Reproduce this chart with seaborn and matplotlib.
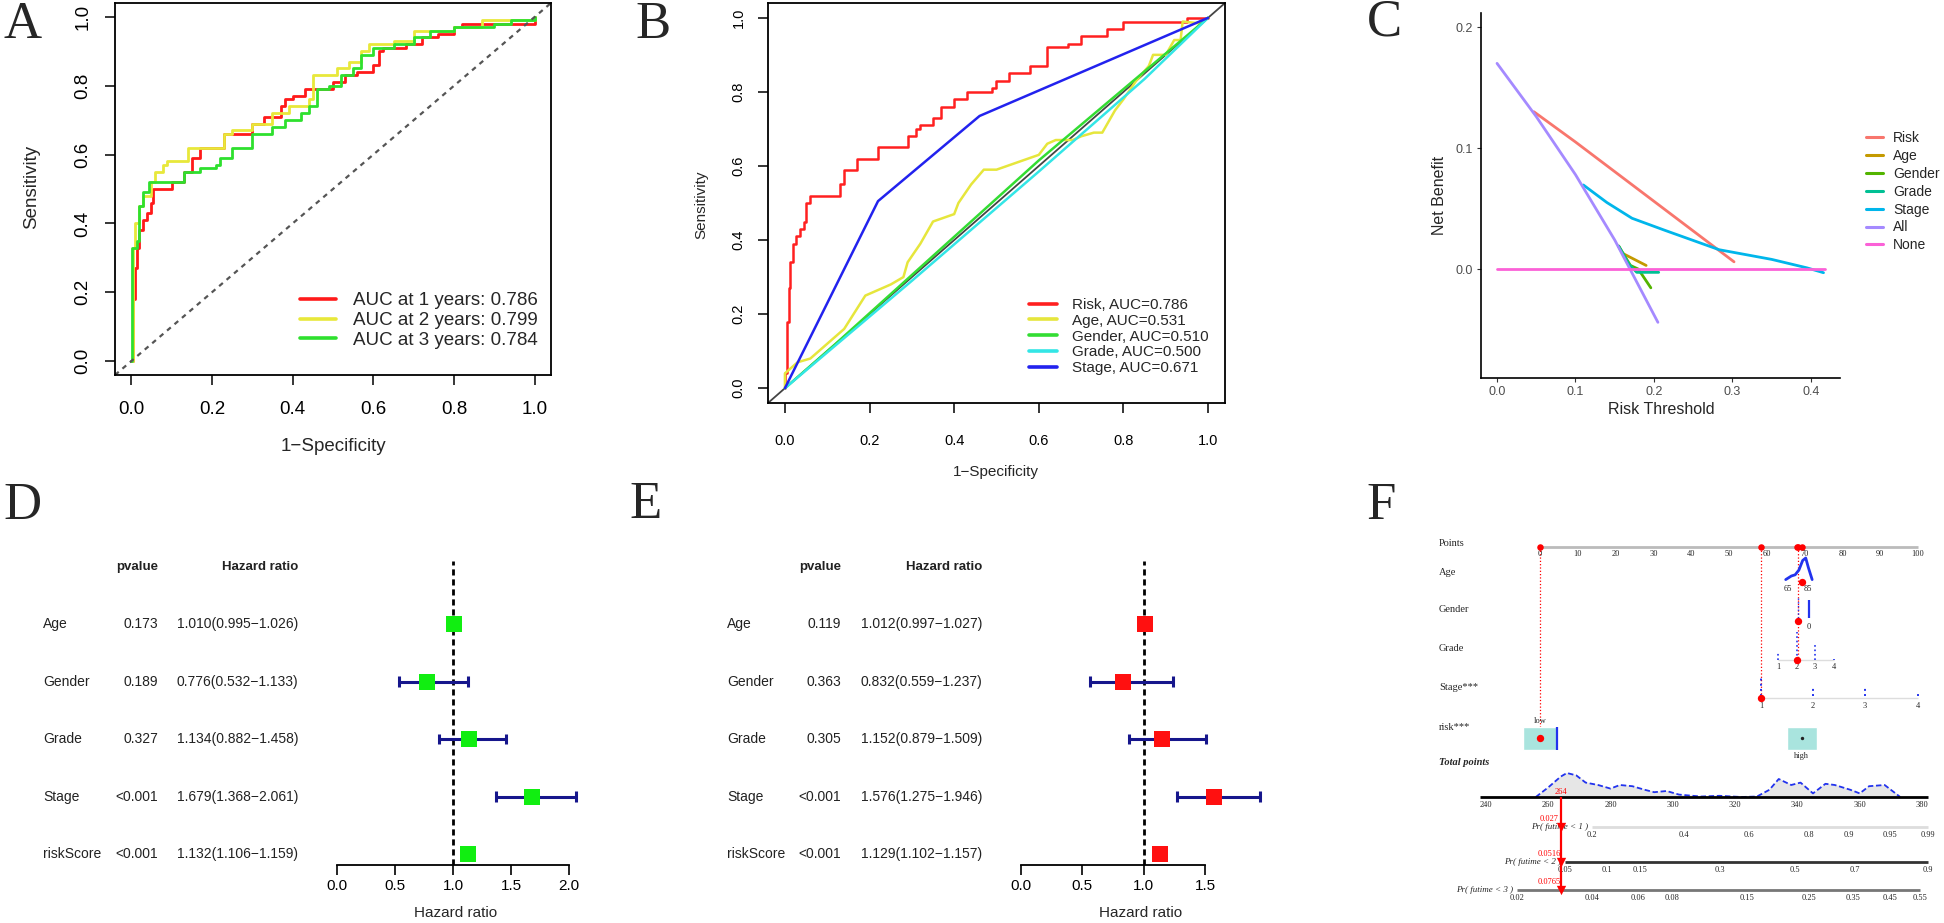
import numpy as np
import matplotlib
matplotlib.use("Agg")
import matplotlib.pyplot as plt
import matplotlib.transforms as mtransforms
import seaborn as sns

# -------------------------
# A: time-dependent ROC
# -------------------------
a1_fpr = [0, 0.005, 0.01, 0.015, 0.02, 0.03, 0.04, 0.05, 0.055, 0.10, 0.12, 0.13, 0.15, 0.17, 0.22, 0.23, 0.27,
          0.30, 0.33, 0.37, 0.38, 0.40, 0.43, 0.48, 0.50, 0.53, 0.56, 0.60, 0.615, 0.625, 0.68, 0.72, 0.76, 0.80,
          0.82, 0.95, 1.0]
a1_tpr = [0, 0.18, 0.27, 0.33, 0.38, 0.41, 0.43, 0.46, 0.50, 0.52, 0.52, 0.55, 0.59, 0.62, 0.62, 0.66, 0.66,
          0.69, 0.71, 0.74, 0.76, 0.77, 0.79, 0.79, 0.81, 0.83, 0.84, 0.86, 0.90, 0.91, 0.92, 0.94, 0.95, 0.97,
          0.98, 0.98, 1.0]
a2_fpr = [0, 0.005, 0.01, 0.02, 0.03, 0.05, 0.06, 0.08, 0.09, 0.12, 0.14, 0.20, 0.23, 0.25, 0.30, 0.35, 0.39,
          0.44, 0.45, 0.50, 0.51, 0.54, 0.57, 0.59, 0.65, 0.70, 0.80, 0.87, 0.95, 1.0]
a2_tpr = [0, 0.33, 0.40, 0.45, 0.48, 0.52, 0.55, 0.57, 0.58, 0.58, 0.62, 0.62, 0.66, 0.67, 0.69, 0.72, 0.74,
          0.76, 0.83, 0.83, 0.85, 0.87, 0.90, 0.92, 0.93, 0.96, 0.97, 0.99, 0.99, 1.0]
a3_fpr = [0, 0.003, 0.015, 0.02, 0.03, 0.045, 0.11, 0.13, 0.17, 0.21, 0.22, 0.25, 0.275, 0.30, 0.35, 0.38, 0.42,
          0.44, 0.46, 0.49, 0.52, 0.55, 0.57, 0.60, 0.65, 0.70, 0.74, 0.80, 0.90, 0.94, 1.0]
a3_tpr = [0, 0.33, 0.35, 0.45, 0.49, 0.52, 0.52, 0.55, 0.56, 0.57, 0.59, 0.62, 0.62, 0.66, 0.68, 0.70, 0.72,
          0.74, 0.79, 0.80, 0.83, 0.85, 0.89, 0.91, 0.92, 0.94, 0.96, 0.97, 0.98, 0.99, 1.0]
auc_years = [1, 2, 3]
auc_a = [0.786, 0.799, 0.784]

# -------------------------
# B: ROC of risk score vs clinical factors
# -------------------------
b_risk_fpr = [0, 0, 0.005, 0.01, 0.012, 0.02, 0.025, 0.035, 0.045, 0.05, 0.06, 0.12, 0.13, 0.14, 0.17, 0.22,
              0.28, 0.29, 0.31, 0.32, 0.35, 0.37, 0.40, 0.43, 0.48, 0.49, 0.50, 0.53, 0.57, 0.58, 0.61, 0.62,
              0.67, 0.70, 0.76, 0.80, 0.94, 0.95, 1.0]
b_risk_tpr = [0, 0.04, 0.18, 0.27, 0.34, 0.39, 0.41, 0.43, 0.45, 0.50, 0.52, 0.52, 0.55, 0.59, 0.62, 0.65,
              0.65, 0.68, 0.70, 0.71, 0.73, 0.76, 0.78, 0.80, 0.80, 0.81, 0.83, 0.85, 0.85, 0.87, 0.87, 0.92,
              0.93, 0.95, 0.97, 0.99, 0.99, 1.0, 1.0]
b_age_fpr = [0, 0, 0.01, 0.03, 0.06, 0.10, 0.14, 0.19, 0.25, 0.28, 0.29, 0.32, 0.35, 0.40, 0.41, 0.44, 0.47,
             0.50, 0.60, 0.62, 0.64, 0.68, 0.70, 0.73, 0.75, 0.78, 0.80, 0.83, 0.86, 0.87, 0.90, 0.92, 0.935,
             0.94, 0.98, 1.0]
b_age_tpr = [0, 0.04, 0.05, 0.07, 0.08, 0.12, 0.16, 0.25, 0.28, 0.30, 0.34, 0.39, 0.45, 0.47, 0.50, 0.55, 0.59,
             0.59, 0.63, 0.66, 0.67, 0.67, 0.68, 0.69, 0.69, 0.75, 0.78, 0.83, 0.87, 0.90, 0.90, 0.94, 0.94,
             0.99, 0.985, 1.0]
b_gender_fpr = [0, 0.12, 0.60, 1.0]
b_gender_tpr = [0, 0.12, 0.615, 1.0]
b_grade_fpr = [0, 0.30, 0.60, 0.85, 1.0]
b_grade_tpr = [0, 0.29, 0.585, 0.835, 1.0]
b_stage_fpr = [0, 0.22, 0.46, 1.0]
b_stage_tpr = [0, 0.505, 0.735, 1.0]
b_names = ["Risk", "Age", "Gender", "Grade", "Stage"]
b_auc = [0.786, 0.531, 0.510, 0.500, 0.671]

# -------------------------
# C: decision curves
# -------------------------
dca_names = ["Risk", "Age", "Gender", "Grade", "Stage", "All", "None"]
thr_risk = [0.047, 0.10, 0.20, 0.302]
nb_risk = [0.130, 0.105, 0.056, 0.006]
thr_age = [0.155, 0.160, 0.190]
nb_age = [0.019, 0.013, 0.003]
thr_gender = [0.155, 0.170, 0.180, 0.196]
nb_gender = [0.019, 0.003, 0.0, -0.0155]
thr_grade = [0.155, 0.168, 0.178, 0.206]
nb_grade = [0.019, 0.004, -0.0027, -0.0027]
thr_stage = [0.110, 0.140, 0.172, 0.214, 0.283, 0.350, 0.395, 0.416]
nb_stage = [0.0695, 0.055, 0.042, 0.032, 0.016, 0.008, 0.001, -0.003]
thr_all = [0.0, 0.05, 0.10, 0.15, 0.205]
nb_all = [0.170, 0.126, 0.078, 0.024, -0.044]
thr_none = [0.0, 0.418]
nb_none = [0.0, 0.0]

# -------------------------
# D / E: univariate and multivariate Cox
# -------------------------
cox_vars = ["Age", "Gender", "Grade", "Stage", "riskScore"]
d_pval = ["0.173", "0.189", "0.327", "<0.001", "<0.001"]
d_hr = [1.010, 0.776, 1.134, 1.679, 1.132]
d_lo = [0.995, 0.532, 0.882, 1.368, 1.106]
d_hi = [1.026, 1.133, 1.458, 2.061, 1.159]
e_pval = ["0.119", "0.363", "0.305", "<0.001", "<0.001"]
e_hr = [1.012, 0.832, 1.152, 1.576, 1.129]
e_lo = [0.997, 0.559, 0.879, 1.275, 1.102]
e_hi = [1.027, 1.237, 1.509, 1.946, 1.157]

# -------------------------
# F: nomogram (values on the "Points" scale)
# -------------------------
points_ticks = list(range(0, 101, 10))
points_chosen = [0, 58.5, 68.0, 68.3, 69.3]
age_pts = [65.0, 66.5, 67.5, 68.5, 69.5, 70.3, 71.0, 72.0]
age_dens = [0.1, 0.25, 0.3, 0.5, 0.9, 1.0, 0.6, 0.1]
age_tick_pts = [65.6, 70.9]
age_tick_labels = ["65", "85"]
grade_pts = [63.0, 68.0, 72.8, 77.8]
grade_freq = [0.3, 1.0, 0.6, 0.05]
stage_pts = [58.5, 72.2, 86.0, 100.0]
stage_freq = [1.0, 0.45, 0.45, 0.2]
risk_pts = [0.0, 69.3]
risk_labels = ["low", "high"]
total_ticks = [240, 260, 280, 300, 320, 340, 360, 380]
total_grid = [256, 260, 264, 266, 269, 272, 276, 280, 283, 287, 291, 294, 298, 302, 309, 315, 322, 327, 331,
              334, 338, 341, 345, 349, 352, 357, 360, 363, 368, 371, 373]
total_dens = [0, 0.4, 0.85, 1.0, 0.9, 0.6, 0.5, 0.35, 0.5, 0.45, 0.3, 0.2, 0.25, 0.1, 0.02, 0.05, 0.0, 0.02,
              0.3, 0.75, 0.5, 0.6, 0.15, 0.55, 0.5, 0.3, 0.15, 0.45, 0.5, 0.2, 0.0]
total_chosen = 264
pr1_pts = [13.8, 38.1, 55.3, 71.2, 81.7, 92.6, 102.6]
pr1_labels = ["0.2", "0.4", "0.6", "0.8", "0.9", "0.95", "0.99"]
pr2_pts = [6.6, 17.7, 26.5, 47.6, 67.5, 83.3, 102.6]
pr2_labels = ["0.05", "0.1", "0.15", "0.3", "0.5", "0.7", "0.9"]
pr3_pts = [-6.1, 13.8, 25.9, 34.9, 54.8, 71.2, 82.8, 92.6, 100.5]
pr3_labels = ["0.02", "0.04", "0.06", "0.08", "0.15", "0.25", "0.35", "0.45", "0.55"]
pr_values = ["0.027", "0.0516", "0.0765"]

# -------------------------
# Figure setup
# -------------------------
sns.set_theme(style="white")
plt.rcParams["font.family"] = ["Liberation Sans", "DejaVu Sans"]
SERIF = ["Liberation Serif", "DejaVu Serif"]

W, H = 1944, 923
fig = plt.figure(figsize=(W / 100, H / 100), dpi=100)


def add_ax(left, right, top, bottom):
    return fig.add_axes([left / W, 1 - bottom / H, (right - left) / W, (bottom - top) / H])


def fig_text(x, y, s, **kw):
    kw.setdefault("ha", "center")
    kw.setdefault("va", "center")
    fig.text(x / W, 1 - y / H, s, **kw)


def r_axes(ax, size, pad_x, pad_y):
    ticks = np.arange(0, 1.01, 0.2)
    ax.set(xlim=(-0.04, 1.04), ylim=(-0.04, 1.04), xlabel="", ylabel="")
    ax.set_xticks(ticks, [f"{t:.1f}" for t in ticks])
    ax.set_yticks(ticks, [f"{t:.1f}" for t in ticks])
    ax.tick_params(direction="out", length=7, width=1.1, color="black", labelsize=size,
                   bottom=True, left=True, labelcolor="black")
    ax.tick_params(axis="x", pad=pad_x)
    ax.tick_params(axis="y", pad=pad_y)
    for lab in ax.get_yticklabels():
        lab.set_rotation(90)
        lab.set_va("center")
    for sp in ax.spines.values():
        sp.set_color("black")
        sp.set_linewidth(1.3)


# -------------------------
# Panel A
# -------------------------
axA = add_ax(115, 551, 3, 375)
a_cols = ["#FF1A1A", "#E8E83A", "#2EE02E"]
for fpr, tpr, col, yr, auc in zip([a1_fpr, a2_fpr, a3_fpr], [a1_tpr, a2_tpr, a3_tpr], a_cols, auc_years, auc_a):
    sns.lineplot(x=fpr, y=tpr, ax=axA, color=col, lw=2.0, sort=False, estimator=None,
                 drawstyle="steps-post", label=f"AUC at {yr} years: {auc:.3f}")
axA.axline((0, 0), slope=1, color="#555555", lw=1.6, ls=(0, (2.2, 2.2)))
r_axes(axA, 13.5, 12, 10)
legA = axA.legend(loc="upper left", bbox_to_anchor=(300 / W, 1 - 292 / H), bbox_transform=fig.transFigure,
                  frameon=False, fontsize=13.5, handlelength=1.9, handletextpad=0.95, labelspacing=0.15,
                  borderpad=0, borderaxespad=0)
for ln in legA.get_lines():
    ln.set_linewidth(2.6)
fig_text(333, 446, "1\u2212Specificity", fontsize=13.5)
fig_text(32, 187, "Sensitivity", fontsize=13.5, rotation=90)

# -------------------------
# Panel B
# -------------------------
axB = add_ax(768, 1225, 3, 403)
b_cols = ["#FF2020", "#E6E63C", "#33DD33", "#33E6E6", "#2222EE"]
b_curves = [(b_risk_fpr, b_risk_tpr, "steps-post"), (b_age_fpr, b_age_tpr, "default"),
            (b_gender_fpr, b_gender_tpr, "default"), (b_grade_fpr, b_grade_tpr, "default"),
            (b_stage_fpr, b_stage_tpr, "default")]
axB.axline((0, 0), slope=1, color="#444444", lw=1.3)
for (fpr, tpr, ds), col, name, auc in zip(b_curves, b_cols, b_names, b_auc):
    sns.lineplot(x=fpr, y=tpr, ax=axB, color=col, lw=1.8, sort=False, estimator=None,
                 drawstyle=ds, label=f"{name}, AUC={auc:.3f}")
r_axes(axB, 10.5, 15, 9)
legB = axB.legend(loc="upper left", bbox_to_anchor=(1029 / W, 1 - 298 / H), bbox_transform=fig.transFigure,
                  frameon=False, fontsize=11, handlelength=1.85, handletextpad=0.95, labelspacing=0.12,
                  borderpad=0, borderaxespad=0)
for ln in legB.get_lines():
    ln.set_linewidth(2.6)
fig_text(996, 472, "1\u2212Specificity", fontsize=11)
fig_text(701, 205, "Sensitivity", fontsize=11, rotation=90)

# -------------------------
# Panel C
# -------------------------
axC = add_ax(1481, 1840, 13, 378)
c_cols = ["#F8766D", "#C49A00", "#53B400", "#00C094", "#00B6EB", "#A58AFF", "#FB61D7"]
c_curves = [(thr_risk, nb_risk), (thr_age, nb_age), (thr_gender, nb_gender), (thr_grade, nb_grade),
            (thr_stage, nb_stage), (thr_all, nb_all), (thr_none, nb_none)]
for (thr, nb), col, name in zip(c_curves, c_cols, dca_names):
    sns.lineplot(x=thr, y=nb, ax=axC, color=col, lw=2.0, sort=False, estimator=None, label=name)
axC.set(xlim=(-0.0204, 0.437), ylim=(-0.090, 0.2116), xlabel="", ylabel="")
axC.set_xticks([0, 0.1, 0.2, 0.3, 0.4], ["0.0", "0.1", "0.2", "0.3", "0.4"])
axC.set_yticks([0, 0.1, 0.2], ["0.0", "0.1", "0.2"])
axC.tick_params(direction="out", length=3, width=0.8, color="#333333", labelsize=9,
                labelcolor="#4D4D4D", pad=3, bottom=True, left=True)
axC.spines[["top", "right"]].set_visible(False)
for sp in ["left", "bottom"]:
    axC.spines[sp].set_color("black")
    axC.spines[sp].set_linewidth(1.2)
legC = axC.legend(loc="upper left", bbox_to_anchor=(1866 / W, 1 - 131 / H), bbox_transform=fig.transFigure,
                  frameon=False, fontsize=10, handlelength=1.2, handletextpad=0.75, labelspacing=0.28,
                  borderpad=0, borderaxespad=0)
for ln in legC.get_lines():
    ln.set_linewidth(2.2)
fig_text(1661, 410, "Risk Threshold", fontsize=11.5)
fig_text(1440, 195, "Net Benefit", fontsize=11.5, rotation=90)


# -------------------------
# Panels D / E: forest plots
# -------------------------
def forest(left, right, x0_px, unit_px, pvals, hr, lo, hi, sq_col, xticks, col_x, xlabel_x):
    top, bot = 561, 865
    ax = add_ax(left, right, top, bot)
    ax.set_xlim((left - x0_px) / unit_px, (right - x0_px) / unit_px)
    ax.set_ylim(4.19, -1.096)
    rows = np.arange(len(cox_vars))
    ax.axvline(1, color="black", lw=2, ls=(0, (2.2, 1.4)), zorder=1)
    ax.hlines(rows, lo, hi, color="#16168C", lw=2.2, zorder=2)
    ax.vlines(lo, rows - 0.09, rows + 0.09, color="#16168C", lw=2.2, zorder=2)
    ax.vlines(hi, rows - 0.09, rows + 0.09, color="#16168C", lw=2.2, zorder=2)
    sns.scatterplot(x=hr, y=rows, ax=ax, marker="s", s=125, color=sq_col, linewidth=0, zorder=3)
    for sp in ["top", "right", "left"]:
        ax.spines[sp].set_visible(False)
    ax.spines["bottom"].set_bounds(0, xticks[-1])
    ax.spines["bottom"].set_color("black")
    ax.spines["bottom"].set_linewidth(1.3)
    ax.set_xticks(xticks, [f"{t:.1f}" for t in xticks])
    ax.set_yticks([])
    ax.tick_params(axis="x", direction="out", length=7, width=1.2, color="black", labelsize=11,
                   labelcolor="black", pad=3, bottom=True)
    ax.set(xlabel="", ylabel="")
    trans = mtransforms.blended_transform_factory(fig.transFigure, ax.transData)
    name_x, p_x, hr_x = col_x
    ax.text(p_x / W, -1, "pvalue", transform=trans, ha="right", va="center", fontsize=9.5,
            fontweight="bold", color="#222222")
    ax.text(hr_x / W, -1, "Hazard ratio", transform=trans, ha="right", va="center", fontsize=9.5,
            fontweight="bold", color="#222222")
    for r, name, p, h, l, u in zip(rows, cox_vars, pvals, hr, lo, hi):
        ax.text(name_x / W, r, name, transform=trans, ha="left", va="center", fontsize=10, color="#222222")
        ax.text(p_x / W, r, p, transform=trans, ha="right", va="center", fontsize=10, color="#222222")
        ax.text(hr_x / W, r, f"{h:.3f}({l:.3f}\u2212{u:.3f})", transform=trans, ha="right", va="center",
                fontsize=10, color="#222222")
    fig_text(xlabel_x, 913, "Hazard ratio", fontsize=11)
    return ax


forest(300, 625, 337, 116, d_pval, d_hr, d_lo, d_hi, "#11EE11", [0, 0.5, 1.0, 1.5, 2.0], (43, 158, 298), 456)
forest(985, 1290, 1021, 122.7, e_pval, e_hr, e_lo, e_hi, "#FF1010", [0, 0.5, 1.0, 1.5], (727, 841, 982), 1141)

# -------------------------
# Panel F: nomogram
# -------------------------
axF = add_ax(1400, 1944, 515, 910)
axF.set_xlim(-37.04, 106.88)
axF.set_ylim(910, 515)
axF.axis("off")
RED = "#FF0000"
BLUE = "#2233EE"


def tot2pts(t):
    return -14.3 + (np.asarray(t, dtype=float) - 240) * 0.824


row_y = {"points": 547, "age": 582, "gender": 621, "grade": 660, "stage": 698, "risk": 738,
         "total": 797, "pr1": 827, "pr2": 862, "pr3": 890}
row_labels = [("Points", 543, "normal"), ("Age", 572, "normal"), ("Gender", 609, "normal"),
              ("Grade", 648, "normal"), ("Stage***", 687, "normal"), ("risk***", 727, "normal"),
              ("Total points", 762, "italic")]
for lab, y, st in row_labels:
    axF.text(-26.7, y, lab, fontsize=7.5, family=SERIF, style=st, ha="left", va="center",
             fontweight="bold" if st == "italic" else "normal")

# Points scale
axF.hlines(row_y["points"], 0, 100, color="#BBBBBB", lw=2)
for t in points_ticks:
    axF.text(t, row_y["points"] + 3, str(t), fontsize=6, family=SERIF, ha="center", va="top")
sns.scatterplot(x=points_chosen, y=[row_y["points"]] * len(points_chosen), ax=axF, color=RED, s=22,
                linewidth=0, zorder=4)
# dotted guide lines
axF.vlines([0, 58.5, 68.3], row_y["points"], [row_y["risk"], row_y["stage"], row_y["grade"]],
           colors=RED, lw=0.9, ls=":", zorder=1)

# Age
sns.lineplot(x=age_pts, y=row_y["age"] - 24 * np.array(age_dens), ax=axF, color=BLUE, lw=2,
             sort=False, estimator=None)
for t, lab in zip(age_tick_pts, age_tick_labels):
    axF.text(t, row_y["age"] + 3, lab, fontsize=6, family=SERIF, ha="center", va="top")
sns.scatterplot(x=[69.3], y=[row_y["age"]], ax=axF, color=RED, s=28, linewidth=0, zorder=4)

# Gender
axF.vlines(71.2, row_y["gender"] - 21, row_y["gender"] - 3, color=BLUE, lw=1.6)
axF.vlines(68.3, row_y["gender"] - 23, row_y["gender"], color=BLUE, lw=1.0, ls=":")
axF.text(71.2, row_y["gender"] + 2, "0", fontsize=6, family=SERIF, ha="center", va="top")
sns.scatterplot(x=[68.3], y=[row_y["gender"]], ax=axF, color=RED, s=28, linewidth=0, zorder=4)

# Grade
axF.hlines(row_y["grade"], grade_pts[0], grade_pts[-1], color="#DDDDDD", lw=1)
axF.vlines(grade_pts, row_y["grade"], row_y["grade"] - 28 * np.array(grade_freq), color=BLUE, lw=1.2, ls=":")
for i, t in enumerate(grade_pts):
    axF.text(t, row_y["grade"] + 3, str(i + 1), fontsize=6, family=SERIF, ha="center", va="top")
sns.scatterplot(x=[grade_pts[1]], y=[row_y["grade"]], ax=axF, color=RED, s=28, linewidth=0, zorder=4)

# Stage
axF.hlines(row_y["stage"], stage_pts[0], stage_pts[-1], color="#DDDDDD", lw=1)
axF.vlines(stage_pts, row_y["stage"] - 2, row_y["stage"] - 2 - 18 * np.array(stage_freq), color=BLUE,
           lw=1.4, ls=":")
for i, t in enumerate(stage_pts):
    axF.text(t, row_y["stage"] + 4, str(i + 1), fontsize=6, family=SERIF, ha="center", va="top")
sns.scatterplot(x=[stage_pts[0]], y=[row_y["stage"]], ax=axF, color=RED, s=28, linewidth=0, zorder=4)

# risk group boxes
axF.bar(risk_pts, [23, 23], width=[8.8, 8.0], bottom=row_y["risk"] - 11, color="#A9E4DE", zorder=2)
axF.vlines(risk_pts[0] + 4.4, row_y["risk"] - 11, row_y["risk"] + 12, color=BLUE, lw=1.6, zorder=3)
sns.scatterplot(x=[risk_pts[0]], y=[row_y["risk"]], ax=axF, color=RED, s=28, linewidth=0, zorder=4)
sns.scatterplot(x=[risk_pts[1]], y=[row_y["risk"]], ax=axF, color="#222222", s=6, linewidth=0, zorder=4)
axF.text(risk_pts[0], row_y["risk"] - 13, risk_labels[0], fontsize=6, family=SERIF, ha="center", va="bottom")
axF.text(risk_pts[1], row_y["risk"] + 14, risk_labels[1], fontsize=6, family=SERIF, ha="center", va="top")

# Total points density
dens_x = tot2pts(total_grid)
dens_y = row_y["total"] - 24 * np.array(total_dens)
axF.fill_between(dens_x, dens_y, row_y["total"], color="#E6E6E6", zorder=1)
sns.lineplot(x=dens_x, y=dens_y, ax=axF, color=BLUE, lw=1.3, ls=(0, (3, 1.5)), sort=False, estimator=None)
axF.hlines(row_y["total"], tot2pts(238), tot2pts(382), color="black", lw=2, zorder=2)
for t in total_ticks:
    axF.text(tot2pts(t), row_y["total"] + 4, str(t), fontsize=6, family=SERIF, ha="center", va="top")

# probability scales
pr_rows = [(row_y["pr1"], pr1_pts, pr1_labels, "#DDDDDD", 1), (row_y["pr2"], pr2_pts, pr2_labels, "#333333", 2),
           (row_y["pr3"], pr3_pts, pr3_labels, "#777777", 3)]
for y, pts, labs, col, k in pr_rows:
    axF.hlines(y, pts[0], pts[-1], color=col, lw=2)
    for t, lab in zip(pts, labs):
        axF.text(t, y + 4, lab, fontsize=6, family=SERIF, ha="center", va="top")
    axF.text(pts[0] - 1, y, f"Pr( futime < {k} )", fontsize=6.5, family=SERIF, style="italic",
             ha="right", va="center")

# red arrow through the scales
x_arrow = float(tot2pts(total_chosen))
axF.vlines(x_arrow, row_y["total"], row_y["pr3"], color=RED, lw=1.6, zorder=5)
sns.scatterplot(x=[x_arrow] * 3, y=[row_y["pr1"], row_y["pr2"], row_y["pr3"]], ax=axF, marker="v",
                color=RED, s=45, linewidth=0, zorder=6)
axF.text(x_arrow, row_y["total"] - 1, str(total_chosen), fontsize=6, color=RED, family=SERIF,
         ha="center", va="bottom")
for (y, *_), val in zip(pr_rows, pr_values):
    axF.text(x_arrow - 3, y - 4, val, fontsize=6, color=RED, family=SERIF, ha="center", va="bottom")

# -------------------------
# Panel letters
# -------------------------
for letter, x, y in [("A", 23, 25), ("B", 653, 25), ("C", 1384, 23), ("D", 22, 506), ("E", 646, 505),
                     ("F", 1381, 506)]:
    fig_text(x, y, letter, fontsize=38, family=SERIF)

fig.savefig("out.png", dpi=100)
